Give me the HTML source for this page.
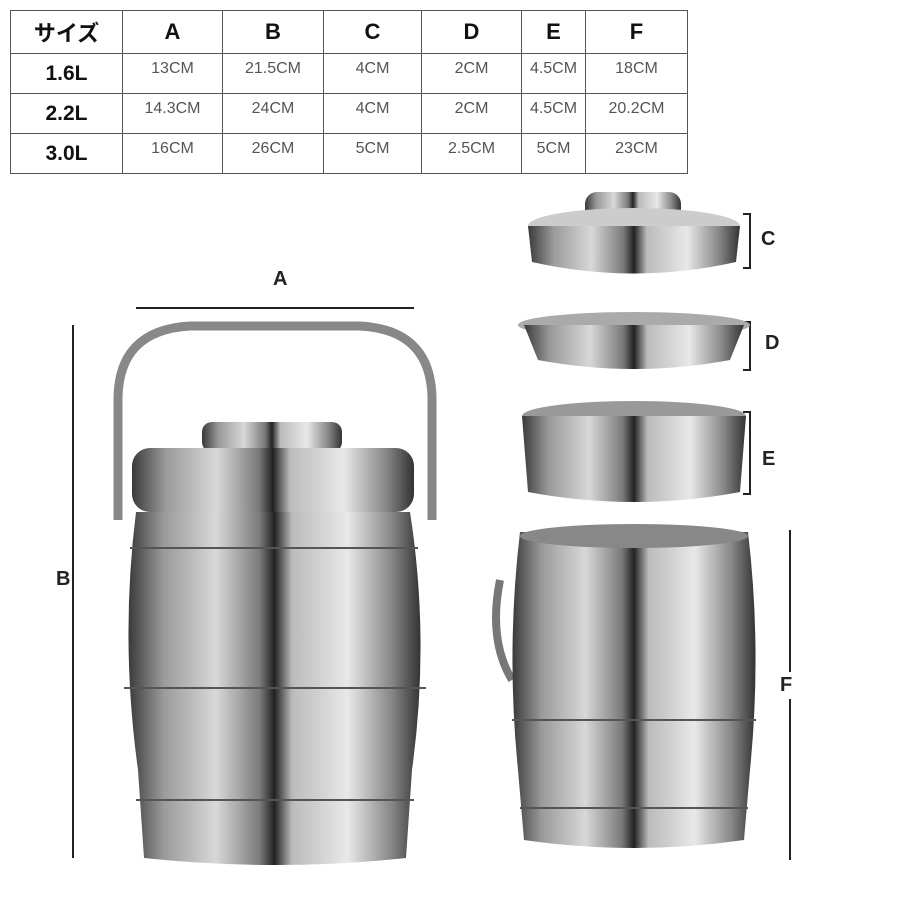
<!DOCTYPE html>
<html><head><meta charset="utf-8"><style>
body{margin:0;background:#fff;width:900px;height:900px;overflow:hidden;position:relative;font-family:"Liberation Sans","Noto Sans CJK JP",sans-serif}
table{position:absolute;left:10px;top:10px;border-collapse:collapse;}
td{border:1px solid #555;text-align:center;color:#555;font-size:16px;padding:0;vertical-align:top}
tr.h td{font-weight:bold;color:#111;font-size:22px;vertical-align:middle;height:42px}
tr.r td{height:40px;padding-top:6px;box-sizing:border-box}
td.l{font-weight:bold;color:#111;font-size:21px;vertical-align:middle;padding-top:0!important}
.lab{position:absolute;font-weight:bold;font-size:20px;color:#222;background:#fff;padding:2px 0}
</style></head><body>
<table>
<tr class="h"><td style="width:111px">サイズ</td><td style="width:99px">A</td><td style="width:100px">B</td><td style="width:97px">C</td><td style="width:99px">D</td><td style="width:63px">E</td><td style="width:101px">F</td></tr>
<tr class="r"><td class="l">1.6L</td><td>13CM</td><td>21.5CM</td><td>4CM</td><td>2CM</td><td>4.5CM</td><td>18CM</td></tr>
<tr class="r"><td class="l">2.2L</td><td>14.3CM</td><td>24CM</td><td>4CM</td><td>2CM</td><td>4.5CM</td><td>20.2CM</td></tr>
<tr class="r"><td class="l">3.0L</td><td>16CM</td><td>26CM</td><td>5CM</td><td>2.5CM</td><td>5CM</td><td>23CM</td></tr>
</table>
<svg width="900" height="900" style="position:absolute;left:0;top:0">
<defs>
<linearGradient id="m" x1="0" x2="1">
<stop offset="0" stop-color="#3a3a3a"/><stop offset=".12" stop-color="#9a9a9a"/><stop offset=".3" stop-color="#d8d8d8"/><stop offset=".45" stop-color="#7a7a7a"/><stop offset=".5" stop-color="#222"/><stop offset=".56" stop-color="#bbb"/><stop offset=".75" stop-color="#e8e8e8"/><stop offset=".9" stop-color="#888"/><stop offset="1" stop-color="#333"/>
</linearGradient>
</defs>
<g stroke="#222" stroke-width="2" fill="none">
<line x1="136" y1="308" x2="414" y2="308"/>
<line x1="73" y1="325" x2="73" y2="858"/>
<line x1="790" y1="530" x2="790" y2="860"/>
<polyline points="743,214 750,214 750,268 743,268"/>
<polyline points="743,322 750,322 750,370 743,370"/>
<polyline points="743,412 750,412 750,494 743,494"/>
</g>
<path d="M118,520 L118,400 Q118,330 190,326 L360,326 Q432,330 432,400 L432,520" stroke="#888" stroke-width="9" fill="none"/>
<rect x="202" y="422" width="140" height="30" rx="10" fill="url(#m)"/>
<rect x="132" y="448" width="282" height="64" rx="18" fill="url(#m)"/>
<path d="M136,512 L410,512 Q430,640 412,770 L406,858 Q275,872 144,858 L138,770 Q120,640 136,512Z" fill="url(#m)"/>
<g stroke="#555" stroke-width="2"><line x1="130" y1="548" x2="418" y2="548"/><line x1="124" y1="688" x2="426" y2="688"/><line x1="136" y1="800" x2="414" y2="800"/></g>
<rect x="585" y="192" width="96" height="40" rx="12" fill="url(#m)"/>
<ellipse cx="634" cy="226" rx="106" ry="18" fill="#ccc"/>
<path d="M528,226 L740,226 L736,262 Q634,285 532,262Z" fill="url(#m)"/>
<ellipse cx="634" cy="325" rx="116" ry="13" fill="#aaa"/>
<path d="M524,325 L744,325 L730,360 Q634,378 538,360Z" fill="url(#m)"/>
<ellipse cx="634" cy="416" rx="112" ry="15" fill="#999"/>
<path d="M522,416 L746,416 L740,492 Q634,512 528,492Z" fill="url(#m)"/>
<path d="M500,580 Q488,640 512,680" stroke="#777" stroke-width="8" fill="none"/>
<path d="M520,532 L748,532 Q762,650 750,770 L744,840 Q634,856 524,840 L518,770 Q506,650 520,532Z" fill="url(#m)"/>
<ellipse cx="634" cy="536" rx="114" ry="12" fill="#888"/>
<g stroke="#555" stroke-width="2"><line x1="512" y1="720" x2="756" y2="720"/><line x1="520" y1="808" x2="748" y2="808"/></g>
</svg>
<div class="lab" style="left:273px;top:266px">A</div>
<div class="lab" style="left:56px;top:566px">B</div>
<div class="lab" style="left:761px;top:226px">C</div>
<div class="lab" style="left:765px;top:330px">D</div>
<div class="lab" style="left:762px;top:446px">E</div>
<div class="lab" style="left:780px;top:672px">F</div>
</body></html>
